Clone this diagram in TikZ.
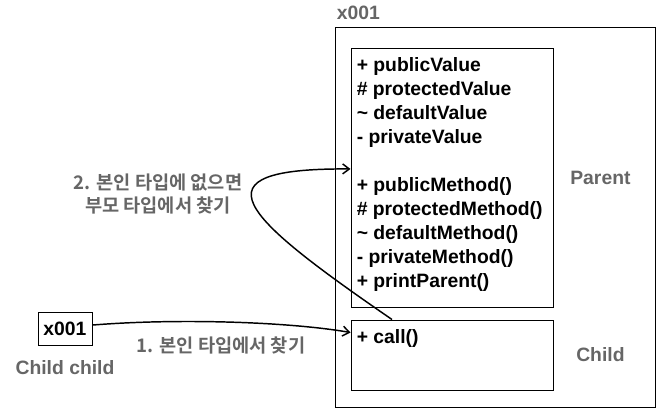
\documentclass[tikz,border=0pt]{standalone}
\usepackage{fontspec}
\setmainfont{Liberation Sans}
\newfontfamily\kofont{Noto Sans CJK KR}[BoldFont={Noto Sans CJK KR Bold}]
\usepackage{xcolor}
\usetikzlibrary{positioning,calc,arrows.meta}
\definecolor{labelgray}{HTML}{666666}

\begin{document}
\begin{tikzpicture}[x=0.75pt, y=-0.75pt, font=\fontsize{14.5}{18}\selectfont\bfseries]

\tikzstyle{objbox} = [draw, line width=0.75pt, inner sep=0]
\tikzstyle{classbox} = [draw, line width=0.75pt, minimum width=151.5pt, inner sep=0]
\tikzstyle{refbox} = [draw, line width=0.75pt, inner sep=2pt]
\tikzstyle{graylabel} = [text=labelgray, inner sep=0]
\tikzstyle{korlabel} = [text=labelgray, inner sep=0, align=center, font=\fontsize{14}{17.5}\selectfont\kofont\bfseries]
\tikzstyle{member} = [inner sep=0, align=left]
\tikzstyle{link} = [line width=1.1pt, -{Straight Barb[length=5pt,width=7.5pt]}]

\useasboundingbox (0,0) rectangle (672,408);

\node[objbox, minimum width=240pt, minimum height=285pt] (obj) at (495,217) {};
\node[classbox, minimum height=194.25pt] (parent) at (452,177.5) {};
\node[classbox, minimum height=52.5pt] (child) at (452,355) {};

\node[member, anchor=north west] (pmembers) at ([xshift=4.5pt,yshift=-7pt]parent.north west) {
	+ publicValue\\
	\# protectedValue\\
	\textasciitilde\ defaultValue\\
	- privateValue\\
	\mbox{}\\
	+ publicMethod()\\
	\# protectedMethod()\\
	\textasciitilde\ defaultMethod()\\
	- privateMethod()\\
	+ printParent()
};
\node[member, anchor=north west] (cmembers) at ([xshift=4.5pt,yshift=-7pt]child.north west) {+ call()};

\node[graylabel, above right=5pt and 1.5pt of obj.north west] (addr) {x001};
\node[graylabel] (pname) at ($(parent.east)!0.46!(parent.east -| obj.east)$) {Parent};
\node[graylabel] (cname) at ($(child.east)!0.46!(child.east -| obj.east)$) {Child};

\node[refbox, minimum width=40.5pt, minimum height=24.75pt] (ref) at (65,328.5) {x001};
\node[graylabel, below=11pt of ref] (var) {Child child};

\node[korlabel] (lookup2) at (158,194) {2. 본인 타입에 없으면\\부모 타입에서 찾기};
\node[korlabel] (lookup1) at (221,345) {1. 본인 타입에서 찾기};

\draw[link] ([yshift=2.6pt]ref.east) .. controls (180,318) and (290,322) .. ([yshift=-9.75pt]child.north west);
\draw[link] ([xshift=-45pt]child.north) .. controls (240,215) and (190,168) .. ([yshift=6.4pt]parent.west);

\end{tikzpicture}
\end{document}
